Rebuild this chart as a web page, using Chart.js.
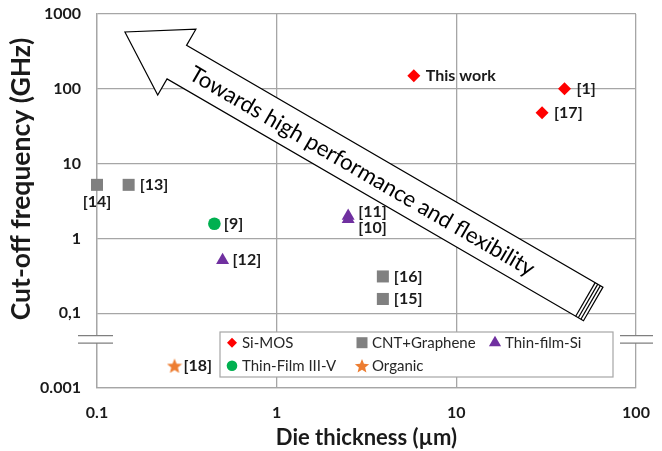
<!DOCTYPE html>
<html lang="en">
<head>
<meta charset="UTF-8">
<title>Cut-off frequency vs die thickness</title>
<script src="https://cdn.jsdelivr.net/npm/chart.js"></script>
<style>
  html, body { margin: 0; padding: 0; background: #fff; }
  #wrap { width: 662px; height: 451px; }
</style>
</head>
<body>
<div id="wrap"><canvas id="chart" width="662" height="451"></canvas></div>
<script>
// die thickness (um) and cut-off frequency (GHz)
const siMosX = [5.8, 40, 30];
const siMosY = [150, 100, 48];
const siMosRefs = ['This work', '[1]', '[17]'];

const cntX = [0.1, 0.15, 3.9, 3.9];
const cntY = [5.2, 5.2, 0.31, 0.155];
const cntRefs = ['[14]', '[13]', '[16]', '[15]'];

const tfSiX = [0.5, 2.5, 2.5];
const tfSiY = [0.51, 2.0, 1.8];
const tfSiRefs = ['[12]', '[11]', '[10]'];

const tfIIIVX = [0.45];
const tfIIIVY = [1.57];
const tfIIIVRefs = ['[9]'];

const organicX = [0.27];
const organicY = [0.002];
const organicRefs = ['[18]'];

const seriesNames = ['Si-MOS', 'CNT+Graphene', 'Thin-film-Si', 'Thin-Film III-V', 'Organic'];

const xTicks = [0.1, 1, 10, 100];
const xTickLabels = ['0.1', '1', '10', '100'];
const yTicks = [1000, 100, 10, 1, 0.1, 0.001];
const yTickLabels = ['1000', '100', '10', '1', '0,1', '0.001'];

const arrowText = 'Towards high performance and flexibility';

// y axis is log with a break: everything below 0.05 is pulled up one decade
const yPos = v => v < 0.05 ? Math.log10(v) + 1 : Math.log10(v);
const pts = (xs, ys) => xs.map((x, i) => ({ x: x, y: yPos(ys[i]) }));

const GRID = '#a6a6a6';
const TXT = '#1a1a1a';

// filled five point star for the Organic series
function starPath(ctx, cx, cy, ro, ri) {
  ctx.beginPath();
  for (let i = 0; i < 10; i++) {
    const r = i % 2 ? ri : ro;
    const a = -Math.PI / 2 + i * Math.PI / 5;
    ctx.lineTo(cx + r * Math.cos(a), cy + r * Math.sin(a));
  }
  ctx.closePath();
}
function starImage(size, color) {
  const c = document.createElement('canvas');
  c.width = size; c.height = size;
  const g = c.getContext('2d');
  g.fillStyle = color;
  starPath(g, size / 2, size / 2 + size * 0.06, size / 2, size / 4.6);
  g.fill();
  return c;
}

const datasets = [
  { label: seriesNames[0], data: pts(siMosX, siMosY), refs: siMosRefs, gap: 12,
    pointStyle: 'rectRot', pointRadius: 6.5, backgroundColor: '#ff0000', borderColor: '#ff0000' },
  { label: seriesNames[1], data: pts(cntX, cntY), refs: cntRefs, gap: 11,
    pointStyle: 'rect', pointRadius: 8.5, backgroundColor: '#808080', borderColor: '#808080' },
  { label: seriesNames[2], data: pts(tfSiX, tfSiY), refs: tfSiRefs, gap: 10,
    pointStyle: 'triangle', pointRadius: 7.5, backgroundColor: '#7030a0', borderColor: '#7030a0' },
  { label: seriesNames[3], data: pts(tfIIIVX, tfIIIVY), refs: tfIIIVRefs, gap: 9.5,
    pointStyle: 'circle', pointRadius: 6.3, backgroundColor: '#00b050', borderColor: '#00b050' },
  { label: seriesNames[4], data: pts(organicX, organicY), refs: organicRefs, gap: 9,
    pointStyle: starImage(16, '#ed7d31'), pointRadius: 8, backgroundColor: '#ed7d31', borderColor: '#ed7d31' }
];
datasets.forEach(ds => { ds.clip = false; });

// where a few labels sit instead of right of the marker
const refPlace = { '[14]': [0, 17, 'center'], '[11]': [null, -4.5], '[10]': [null, 9] };

function drawArrow(chart) {
  const ctx = chart.ctx, xs = chart.scales.x, ys = chart.scales.y;
  const tip = { x: xs.getPixelForValue(0.143), y: ys.getPixelForValue(yPos(575)) };
  const tail = { x: xs.getPixelForValue(57.8), y: ys.getPixelForValue(yPos(0.133)) };
  const len = Math.hypot(tail.x - tip.x, tail.y - tip.y);
  const u = { x: (tail.x - tip.x) / len, y: (tail.y - tip.y) / len };
  const n = { x: -u.y, y: u.x };
  const headLen = 60, headW = 38, shaftW = 19.4;
  const at = (t, s) => [tip.x + u.x * t + n.x * s, tip.y + u.y * t + n.y * s];
  const poly = [at(0, 0), at(headLen, headW), at(headLen, shaftW), at(len, shaftW),
                at(len, -shaftW), at(headLen, -shaftW), at(headLen, -headW)];
  ctx.save();
  ctx.beginPath();
  poly.forEach((p, i) => i ? ctx.lineTo(p[0], p[1]) : ctx.moveTo(p[0], p[1]));
  ctx.closePath();
  ctx.fillStyle = '#fff';
  ctx.fill();
  ctx.strokeStyle = '#000';
  ctx.lineWidth = 1.2;
  ctx.stroke();
  // striped tail
  for (let k = 1; k <= 3; k++) {
    const a = at(len - k * 3, shaftW), b = at(len - k * 3, -shaftW);
    ctx.beginPath(); ctx.moveTo(a[0], a[1]); ctx.lineTo(b[0], b[1]); ctx.stroke();
  }
  // label along the shaft
  ctx.font = '20px Lato';
  const w = ctx.measureText(arrowText).width;
  ctx.font = (20 * 395 / w).toFixed(2) + 'px Lato';
  const c = at(275, 1.5);
  ctx.translate(c[0], c[1]);
  ctx.rotate(Math.atan2(u.y, u.x));
  ctx.fillStyle = '#000';
  ctx.textAlign = 'center';
  ctx.textBaseline = 'middle';
  ctx.fillText(arrowText, 0, 0);
  ctx.restore();
}

function drawBreaks(chart) {
  const ctx = chart.ctx, a = chart.chartArea, ys = chart.scales.y;
  const y = ys.getPixelForValue(-1.35);
  ctx.save();
  [[a.left - 19, a.left + 16], [a.right - 16, a.right + 17]].forEach(([x0, x1]) => {
    ctx.fillStyle = '#fff';
    ctx.fillRect(x0, y - 3.6, x1 - x0, 7.2);
    ctx.strokeStyle = '#7f7f7f';
    ctx.lineWidth = 1.3;
    [-3.8, 3.8].forEach(d => {
      ctx.beginPath(); ctx.moveTo(x0, y + d); ctx.lineTo(x1, y + d); ctx.stroke();
    });
  });
  ctx.restore();
}

function drawRefs(chart) {
  const ctx = chart.ctx;
  ctx.save();
  ctx.font = 'bold 16px Lato';
  ctx.fillStyle = TXT;
  ctx.textBaseline = 'middle';
  chart.data.datasets.forEach((ds, i) => {
    chart.getDatasetMeta(i).data.forEach((el, j) => {
      const ref = ds.refs[j];
      const p = refPlace[ref] || [];
      const dx = p[0] == null ? ds.gap : p[0];
      const dy = p[1] || 0;
      ctx.textAlign = p[2] || 'left';
      ctx.fillText(ref, el.x + dx, el.y + dy);
    });
  });
  ctx.restore();
}

function drawMarker(ctx, ds, x, y) {
  ctx.fillStyle = ds.backgroundColor;
  ctx.beginPath();
  if (ds.pointStyle === 'rectRot') {
    ctx.moveTo(x - 5, y); ctx.lineTo(x, y - 5); ctx.lineTo(x + 5, y); ctx.lineTo(x, y + 5);
  } else if (ds.pointStyle === 'rect') {
    ctx.rect(x - 5.5, y - 5.5, 11, 11);
  } else if (ds.pointStyle === 'triangle') {
    ctx.moveTo(x, y - 7); ctx.lineTo(x + 6.1, y + 3.5); ctx.lineTo(x - 6.1, y + 3.5);
  } else if (ds.pointStyle === 'circle') {
    ctx.arc(x, y, 5.3, 0, Math.PI * 2);
  } else {
    starPath(ctx, x, y + 0.8, 7.5, 3.3);
  }
  ctx.closePath();
  ctx.fill();
}

function drawLegendBox(chart) {
  const ctx = chart.ctx, a = chart.chartArea;
  const left = a.left + 123, top = a.top + 318;
  const slots = [[12, 10.7], [142, 10.7], [275, 10.7], [12, 33.7], [142, 33.7]];
  ctx.save();
  ctx.fillStyle = '#fff';
  ctx.fillRect(left, top, 393, 45);
  ctx.strokeStyle = GRID;
  ctx.lineWidth = 1.2;
  ctx.strokeRect(left, top, 393, 45);
  ctx.font = '15px Lato';
  ctx.textBaseline = 'middle';
  ctx.textAlign = 'left';
  chart.data.datasets.forEach((ds, i) => {
    const x = left + slots[i][0], y = top + slots[i][1];
    drawMarker(ctx, ds, x, y);
    ctx.fillStyle = '#262626';
    ctx.fillText(ds.label, x + 10, y + 0.5);
  });
  ctx.restore();
}

function drawYTitle(chart) {
  const ctx = chart.ctx;
  ctx.save();
  ctx.translate(21, 179);
  ctx.rotate(-Math.PI / 2);
  ctx.font = 'bold 26.5px Lato';
  ctx.fillStyle = TXT;
  ctx.textAlign = 'center';
  ctx.textBaseline = 'middle';
  ctx.fillText('Cut-off frequency (GHz)', 0, 0);
  ctx.restore();
}

const decor = {
  id: 'decor',
  beforeDatasetsDraw(chart) { drawArrow(chart); drawBreaks(chart); },
  afterDatasetsDraw(chart) { drawRefs(chart); drawLegendBox(chart); drawYTitle(chart); }
};

new Chart(document.getElementById('chart'), {
  type: 'scatter',
  data: { datasets: datasets },
  plugins: [decor],
  options: {
    responsive: false,
    animation: false,
    layout: { padding: { top: 14, right: 26, left: 0, bottom: 0 } },
    plugins: { legend: { display: false }, tooltip: { enabled: false } },
    elements: { point: { borderWidth: 0, hoverRadius: 0 } },
    scales: {
      x: {
        type: 'logarithmic',
        min: 0.1, max: 100,
        afterBuildTicks: s => { s.ticks = xTicks.map(v => ({ value: v })); },
        afterFit: s => { s.height = 63; s.paddingLeft = 0; s.paddingRight = 0; },
        grid: { color: GRID, lineWidth: 1.3, drawTicks: false },
        border: { color: GRID, width: 1.3 },
        ticks: {
          padding: 15, color: TXT, font: { family: 'Lato', weight: 'bold', size: 16 },
          callback: v => xTickLabels[xTicks.indexOf(v)]
        },
        title: {
          display: true, text: 'Die thickness (µm)', color: TXT,
          font: { family: 'Lato', weight: 'bold', size: 22 }, padding: { top: 0, bottom: 0 }
        }
      },
      y: {
        type: 'linear',
        min: -2, max: 3,
        afterBuildTicks: s => { s.ticks = yTicks.map(v => ({ value: yPos(v) })); },
        afterFit: s => { s.width = 97; s.paddingTop = 0; s.paddingBottom = 0; },
        grid: { color: GRID, lineWidth: 1.3, drawTicks: false },
        border: { color: GRID, width: 1.3 },
        ticks: {
          padding: 16, color: TXT, font: { family: 'Lato', weight: 'bold', size: 16 },
          callback: v => yTickLabels[yTicks.findIndex(t => Math.abs(yPos(t) - v) < 1e-6)]
        }
      }
    }
  }
});
</script>
</body>
</html>
